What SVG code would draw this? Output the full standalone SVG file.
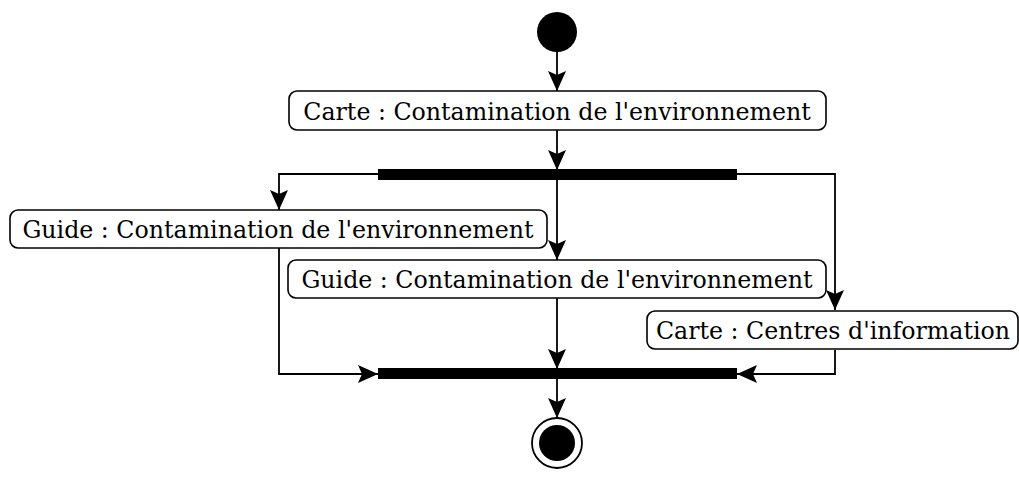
<svg xmlns="http://www.w3.org/2000/svg" width="1019" height="477" viewBox="0 0 1019 477">
<style>
.box{fill:#fff;stroke:#000;stroke-width:1.6}
.t{font-family:"DejaVu Serif",serif;font-size:23.7px;fill:#000;text-anchor:middle}
.c{fill:none;stroke:#000;stroke-width:1.8}
.bar{fill:#000}
</style>
<defs>
<marker id="a" markerUnits="userSpaceOnUse" markerWidth="22" markerHeight="18" refX="20" refY="9" orient="auto">
<path d="M0,0 L20,9 L0,18 L4,9 z" fill="#000"/>
</marker>
</defs>
<rect width="1019" height="477" fill="#fff"/>
<g id="connectors">
<path class="c" d="M557,52 V91" marker-end="url(#a)"/>
<path class="c" d="M557,130 V170" marker-end="url(#a)"/>
<path class="c" d="M378,174 H279 V210" marker-end="url(#a)"/>
<path class="c" d="M557,180 V260" marker-end="url(#a)"/>
<path class="c" d="M737,174 H835 V310" marker-end="url(#a)"/>
<path class="c" d="M279,248 V374 H378" marker-end="url(#a)"/>
<path class="c" d="M557,298 V369" marker-end="url(#a)"/>
<path class="c" d="M835,350 V374 H737" marker-end="url(#a)"/>
<path class="c" d="M557,379 V418" marker-end="url(#a)"/>
</g>
<g id="start"><circle cx="557" cy="32" r="20" fill="#000"/></g>
<g id="n1"><rect class="box" x="289" y="91" width="537" height="39" rx="8"/><text class="t" x="557" y="120">Carte : Contamination de l'environnement</text></g>
<g id="fork"><rect class="bar" x="378" y="169" width="359" height="11"/></g>
<g id="n2"><rect class="box" x="10" y="210" width="537" height="38" rx="8"/><text class="t" x="278" y="238">Guide : Contamination de l'environnement</text></g>
<g id="n3"><rect class="box" x="288" y="260" width="538" height="38" rx="8"/><text class="t" x="557" y="288">Guide : Contamination de l'environnement</text></g>
<g id="n4"><rect class="box" x="647" y="311" width="371" height="38" rx="8"/><text class="t" x="833" y="339">Carte : Centres d'information</text></g>
<g id="join"><rect class="bar" x="378" y="368" width="359" height="11"/></g>
<g id="end"><circle cx="557" cy="443" r="25" fill="#fff" stroke="#000" stroke-width="1.8"/><circle cx="557" cy="443" r="18" fill="#000"/></g>
</svg>
